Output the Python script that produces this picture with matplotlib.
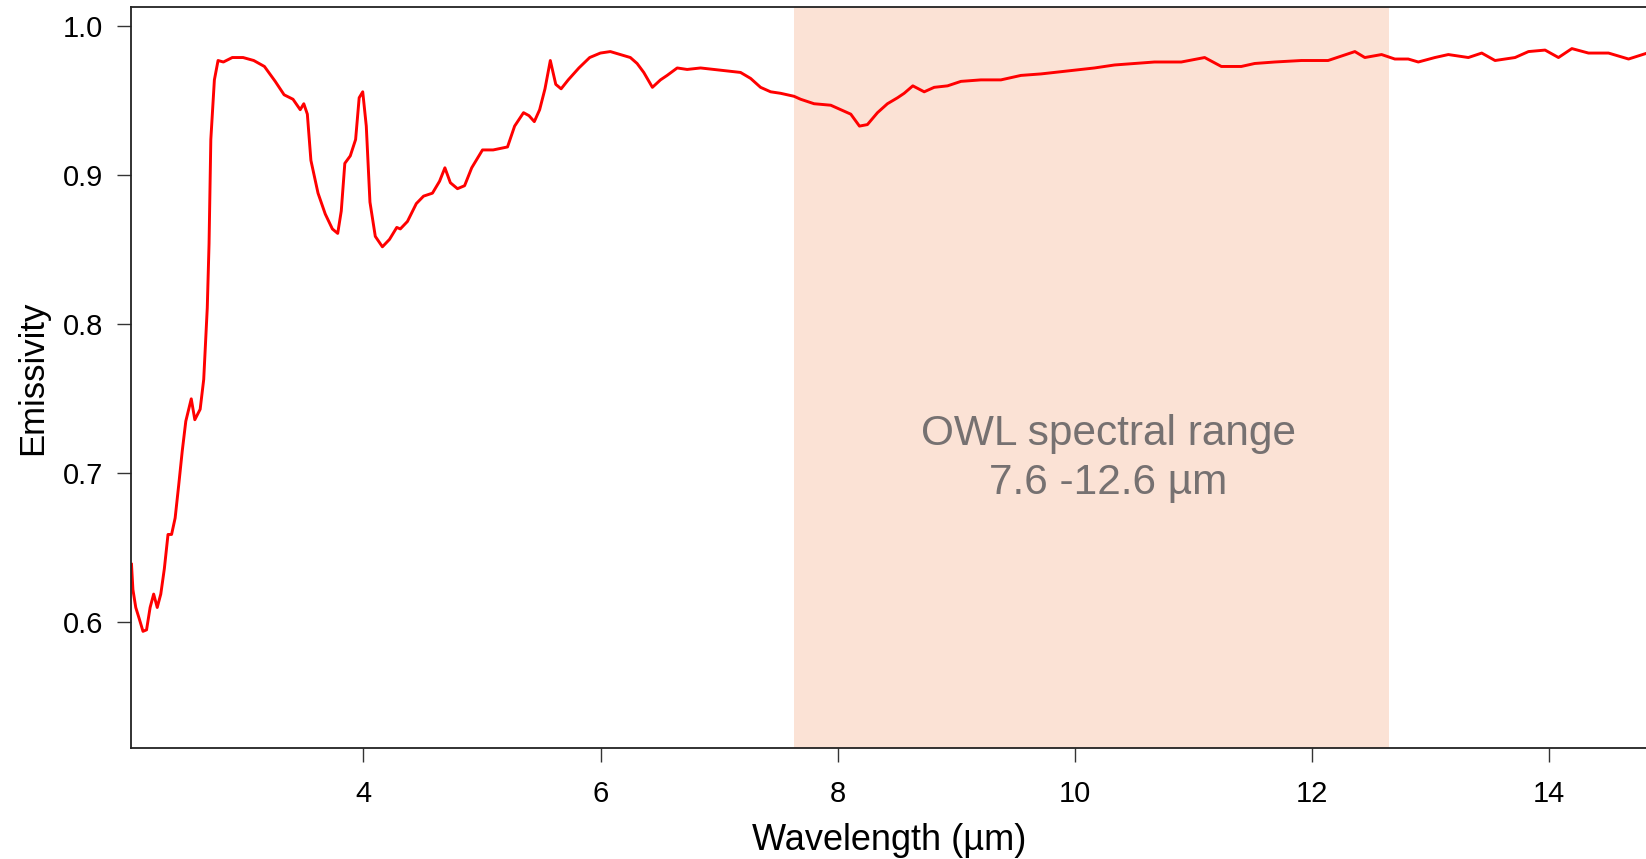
import matplotlib
matplotlib.use("Agg")
import matplotlib.pyplot as plt

plt.rcParams['font.family'] = ['Liberation Sans', 'DejaVu Sans']

# emissivity spectrum
wavelength = [2.044, 2.056, 2.080, 2.111, 2.141, 2.171, 2.201, 2.231, 2.261, 2.291,
              2.321, 2.352, 2.382, 2.412, 2.442, 2.472, 2.502, 2.548, 2.578, 2.623,
              2.653, 2.683, 2.698, 2.713, 2.743, 2.774, 2.819, 2.894, 2.985, 3.075,
              3.165, 3.256, 3.331, 3.406, 3.467, 3.497, 3.527, 3.557, 3.617, 3.678,
              3.738, 3.783, 3.813, 3.843, 3.889, 3.934, 3.964, 3.994, 4.024, 4.055,
              4.100, 4.160, 4.220, 4.281, 4.311, 4.371, 4.446, 4.507, 4.582, 4.642,
              4.687, 4.733, 4.793, 4.853, 4.913, 5.004, 5.094, 5.215, 5.275, 5.350,
              5.396, 5.441, 5.486, 5.531, 5.576, 5.622, 5.667, 5.727, 5.817, 5.908,
              5.998, 6.082, 6.167, 6.251, 6.308, 6.364, 6.437, 6.505, 6.561, 6.646,
              6.730, 6.843, 6.955, 7.068, 7.180, 7.265, 7.349, 7.434, 7.518, 7.631,
              7.687, 7.800, 7.941, 8.025, 8.110, 8.183, 8.250, 8.335, 8.419, 8.504,
              8.560, 8.633, 8.729, 8.813, 8.926, 9.039, 9.207, 9.376, 9.545, 9.714,
              9.939, 10.165, 10.334, 10.502, 10.671, 10.897, 11.094, 11.235, 11.403, 11.516,
              11.685, 11.910, 12.135, 12.361, 12.445, 12.586, 12.698, 12.811, 12.896, 13.036,
              13.149, 13.318, 13.431, 13.543, 13.712, 13.825, 13.965, 14.078, 14.191, 14.331,
              14.500, 14.669, 14.827]
emissivity = [0.639, 0.622, 0.610, 0.602, 0.594, 0.595, 0.610, 0.619, 0.610, 0.619,
              0.636, 0.659, 0.659, 0.670, 0.692, 0.715, 0.735, 0.750, 0.736, 0.743,
              0.763, 0.811, 0.854, 0.924, 0.964, 0.977, 0.976, 0.979, 0.979, 0.977,
              0.973, 0.963, 0.954, 0.951, 0.944, 0.948, 0.941, 0.910, 0.888, 0.874,
              0.864, 0.861, 0.876, 0.908, 0.913, 0.924, 0.952, 0.956, 0.933, 0.882,
              0.859, 0.852, 0.857, 0.865, 0.864, 0.869, 0.881, 0.886, 0.888, 0.896,
              0.905, 0.895, 0.891, 0.893, 0.905, 0.917, 0.917, 0.919, 0.933, 0.942,
              0.940, 0.936, 0.944, 0.958, 0.977, 0.961, 0.958, 0.964, 0.972, 0.979,
              0.982, 0.983, 0.981, 0.979, 0.975, 0.969, 0.959, 0.964, 0.967, 0.972,
              0.971, 0.972, 0.971, 0.970, 0.969, 0.965, 0.959, 0.956, 0.955, 0.953,
              0.951, 0.948, 0.947, 0.944, 0.941, 0.933, 0.934, 0.942, 0.948, 0.952,
              0.955, 0.960, 0.956, 0.959, 0.960, 0.963, 0.964, 0.964, 0.967, 0.968,
              0.970, 0.972, 0.974, 0.975, 0.976, 0.976, 0.979, 0.973, 0.973, 0.975,
              0.976, 0.977, 0.977, 0.983, 0.979, 0.981, 0.978, 0.978, 0.976, 0.979,
              0.981, 0.979, 0.982, 0.977, 0.979, 0.983, 0.984, 0.979, 0.985, 0.982,
              0.982, 0.978, 0.982]

owl_range = (7.63, 12.65)
x_ticks = [4, 6, 8, 10, 12, 14]
y_ticks = [0.6, 0.7, 0.8, 0.9, 1.0]

fig = plt.figure(figsize=(16.46, 8.59), dpi=100)
ax = fig.add_axes([0.0796, 0.1297, 0.9214, 0.8618])

ax.axvspan(owl_range[0], owl_range[1], color='#FBE2D5', lw=0, zorder=0)
ax.plot(wavelength, emissivity, color='red', lw=2.1, zorder=2)

ax.text(10.28, 0.710, "OWL spectral range\n7.6 -12.6 µm", ha='center', va='center',
        fontsize=30.5, color='#767171', linespacing=1.28)

ax.set_xlim(2.04, 14.83)
ax.set_ylim(0.516, 1.0127)
ax.set_xticks(x_ticks)
ax.set_yticks(y_ticks)
ax.set_yticklabels(["%.1f" % v for v in y_ticks])
ax.tick_params(labelsize=21, length=10, width=1, color='#333333')
ax.tick_params(axis='x', pad=13)
ax.tick_params(axis='y', pad=10)
for s in ax.spines.values():
    s.set_linewidth(1.3)
    s.set_color('#222222')
ax.spines['right'].set_visible(False)

ax.set_xlabel("Wavelength (µm)", fontsize=26, labelpad=11)
ax.set_ylabel("Emissivity", fontsize=25, labelpad=10)

fig.savefig("out.png", dpi=100)
